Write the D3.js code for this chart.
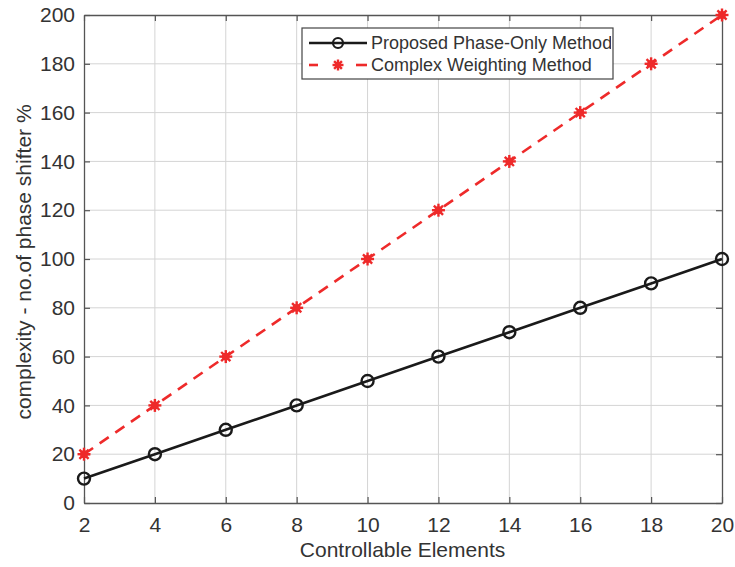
<!DOCTYPE html>
<html>
<head>
<meta charset="utf-8">
<script src="https://cdn.jsdelivr.net/npm/d3@7/dist/d3.min.js"></script>
<style>
  html, body { margin: 0; padding: 0; background: #fff; }
  svg { display: block; font-family: "Liberation Sans", Arial, sans-serif; }
</style>
</head>
<body>
<svg id="chart" width="735" height="567"></svg>
<script>
// Data
const elements = [2, 4, 6, 8, 10, 12, 14, 16, 18, 20];
const phaseOnly = [10, 20, 30, 40, 50, 60, 70, 80, 90, 100];
const complexWeighting = [20, 40, 60, 80, 100, 120, 140, 160, 180, 200];
const xTicks = [2, 4, 6, 8, 10, 12, 14, 16, 18, 20];
const yTicks = [0, 20, 40, 60, 80, 100, 120, 140, 160, 180, 200];
const seriesNames = ["Proposed Phase-Only Method", "Complex Weighting Method"];

(function () {
const svg = d3.select("#chart");
const pLeft = 84, pRight = 722, pTop = 15, pBottom = 503;

const x = d3.scaleLinear().domain([2, 20]).range([pLeft, pRight]);
const y = d3.scaleLinear().domain([0, 200]).range([pBottom, pTop]);

const axisColor = "#555";
const gridColor = "#d4d4d4";
const textColor = "#333";
const red = "#ee2a2a";
const fontSize = "21px";

// Grid
const grid = svg.append("g");
grid.selectAll("line.vx").data(xTicks.slice(1, -1)).join("line")
  .attr("x1", d => x(d)).attr("x2", d => x(d))
  .attr("y1", pTop).attr("y2", pBottom)
  .attr("stroke", gridColor).attr("stroke-width", 1);
grid.selectAll("line.hy").data(yTicks.slice(1, -1)).join("line")
  .attr("x1", pLeft).attr("x2", pRight)
  .attr("y1", d => y(d)).attr("y2", d => y(d))
  .attr("stroke", gridColor).attr("stroke-width", 1);

// Axes with inward ticks on all four sides
function styleAxis(g) {
  g.select(".domain").attr("stroke", axisColor).attr("stroke-width", 1.3);
  g.selectAll(".tick line").attr("stroke", axisColor).attr("stroke-width", 1.2);
  g.selectAll(".tick text").attr("fill", textColor).style("font-size", fontSize)
    .style("font-family", "'Liberation Sans', Arial, sans-serif");
}
const tickIn = 6;
svg.append("g").attr("transform", `translate(0,${pBottom})`)
  .call(d3.axisBottom(x).tickValues(xTicks).tickSizeInner(-tickIn).tickSizeOuter(0).tickPadding(14))
  .call(styleAxis);
svg.append("g").attr("transform", `translate(0,${pTop})`)
  .call(d3.axisTop(x).tickValues(xTicks).tickSizeInner(-tickIn).tickSizeOuter(0).tickFormat(""))
  .call(styleAxis);
svg.append("g").attr("transform", `translate(${pLeft},0)`)
  .call(d3.axisLeft(y).tickValues(yTicks).tickSizeInner(-tickIn).tickSizeOuter(0).tickPadding(9))
  .call(styleAxis);
svg.append("g").attr("transform", `translate(${pRight},0)`)
  .call(d3.axisRight(y).tickValues(yTicks).tickSizeInner(-tickIn).tickSizeOuter(0).tickFormat(""))
  .call(styleAxis);

// Axis titles
svg.append("text")
  .attr("x", (pLeft + pRight) / 2 - 0.5).attr("y", 557)
  .attr("text-anchor", "middle").attr("fill", textColor)
  .style("font-size", fontSize)
  .text("Controllable Elements");
svg.append("text")
  .attr("transform", `translate(31,${(pTop + pBottom) / 2 + 3}) rotate(-90)`)
  .attr("text-anchor", "middle").attr("fill", textColor)
  .style("font-size", fontSize)
  .text("complexity - no.of phase shifter %");

// Series
const line = d3.line().x(d => x(d[0])).y(d => y(d[1]));
const redPts = elements.map((e, i) => [e, complexWeighting[i]]);
const blackPts = elements.map((e, i) => [e, phaseOnly[i]]);

svg.append("path").datum(redPts).attr("d", line)
  .attr("fill", "none").attr("stroke", red).attr("stroke-width", 2.6)
  .attr("stroke-dasharray", "11,8");

svg.append("path").datum(blackPts).attr("d", line)
  .attr("fill", "none").attr("stroke", "#1a1a1a").attr("stroke-width", 2.6);

// Asterisk marker
function asterisk(g, cx, cy, r) {
  const a = g.append("g").attr("transform", `translate(${cx},${cy})`);
  [0, 45, 90, 135].forEach(ang => {
    const rad = ang * Math.PI / 180;
    a.append("line")
      .attr("x1", -r * Math.cos(rad)).attr("y1", -r * Math.sin(rad))
      .attr("x2", r * Math.cos(rad)).attr("y2", r * Math.sin(rad))
      .attr("stroke", red).attr("stroke-width", 2.4);
  });
  a.append("circle").attr("r", r * 0.6).attr("fill", red);
}
const redMarks = svg.append("g");
redPts.forEach(p => asterisk(redMarks, x(p[0]), y(p[1]), 6.5));

svg.append("g").selectAll("circle").data(blackPts).join("circle")
  .attr("cx", d => x(d[0])).attr("cy", d => y(d[1])).attr("r", 6)
  .attr("fill", "none").attr("stroke", "#1a1a1a").attr("stroke-width", 2.4);

// Legend
const lg = svg.append("g");
const lx = 302, ly = 28, lw = 311, lh = 51;
svg.append("clipPath").attr("id", "legclip")
  .append("rect").attr("x", lx).attr("y", ly).attr("width", lw - 2).attr("height", lh);
lg.append("rect").attr("x", lx).attr("y", ly).attr("width", lw).attr("height", lh)
  .attr("fill", "#fff").attr("stroke", "#444").attr("stroke-width", 1.2);

const rows = [ly + 15, ly + 37];
// Phase-only entry
lg.append("line").attr("x1", 309).attr("x2", 367).attr("y1", rows[0]).attr("y2", rows[0])
  .attr("stroke", "#1a1a1a").attr("stroke-width", 2.6);
lg.append("circle").attr("cx", 338).attr("cy", rows[0]).attr("r", 5)
  .attr("fill", "none").attr("stroke", "#1a1a1a").attr("stroke-width", 2.2);
// Complex weighting entry: two dash segments either side of the marker
[[309, 318], [356, 367]].forEach(s => {
  lg.append("line").attr("x1", s[0]).attr("x2", s[1]).attr("y1", rows[1]).attr("y2", rows[1])
    .attr("stroke", red).attr("stroke-width", 2.6);
});
asterisk(lg, 338, rows[1], 5.5);

const lt = lg.append("g").attr("clip-path", "url(#legclip)");
seriesNames.forEach((n, i) => {
  lt.append("text").attr("x", 371).attr("y", rows[i] + 6)
    .attr("fill", "#333").style("font-size", "18px").text(n);
});
})();
</script>
</body>
</html>
